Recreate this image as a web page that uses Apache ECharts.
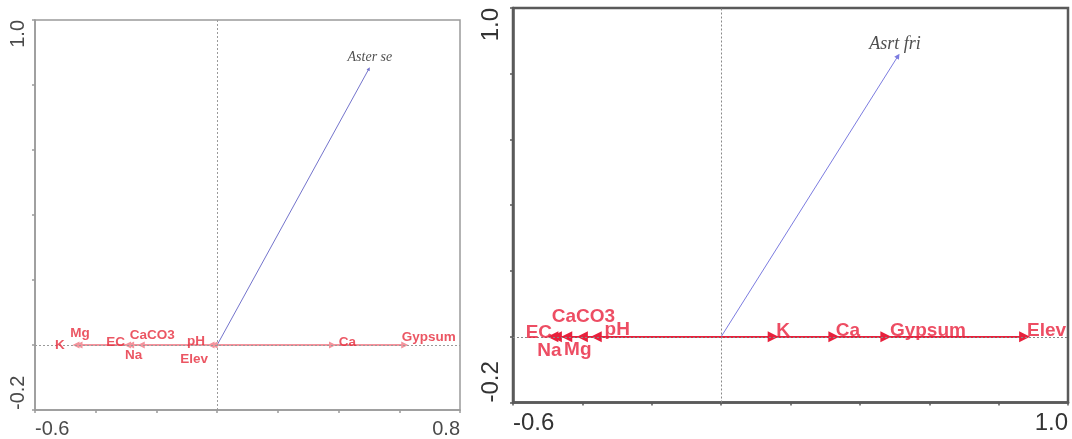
<!DOCTYPE html>
<html>
<head>
<meta charset="utf-8">
<script src="https://cdn.jsdelivr.net/npm/echarts@6/dist/echarts.min.js"></script>
<style>
html,body{margin:0;padding:0;background:#fff;}
#chart{width:1072px;height:439px;}
</style>
</head>
<body>
<div id="chart"></div>
<script>
// ---------- DATA ----------
// Left panel (Aster se)
const leftVars = ['K', 'Mg', 'EC', 'Na', 'CaCO3', 'pH', 'Elev', 'Ca', 'Gypsum'];
const leftVarX = [-0.465, -0.455, -0.295, -0.285, -0.25, -0.02, -0.01, 0.38, 0.618];
const leftVarY = [0, 0, 0, 0, 0, 0, 0, 0, 0];
const leftSpecies = ['Aster se'];
const leftSpeciesX = [0.50];
const leftSpeciesY = [0.85];
const leftXTicks = ['-0.6', '0.8'];
const leftYTicks = ['-0.2', '1.0'];

// Right panel (Asrt fri)
const rightVars = ['EC', 'Na', 'Mg', 'CaCO3', 'pH', 'K', 'Ca', 'Gypsum', 'Elev'];
const rightVarX = [-0.485, -0.475, -0.445, -0.40, -0.36, 0.15, 0.325, 0.475, 0.875];
const rightVarY = [0, 0, 0, 0, 0, 0, 0, 0, 0];
const rightSpecies = ['Asrt fri'];
const rightSpeciesX = [0.51];
const rightSpeciesY = [0.854];
const rightXTicks = ['-0.6', '1.0'];
const rightYTicks = ['-0.2', '1.0'];

// ---------- LABEL LAYOUT (style only) ----------
const leftLabelOffset = {
  'K': [-16, 0], 'Mg': [1, -12], 'EC': [-12, -3], 'Na': [3, 10], 'CaCO3': [11, -10],
  'pH': [-15, -4], 'Elev': [-20, 14], 'Ca': [15, -3], 'Gypsum': [24, -8]
};
const rightLabelOffset = {
  'EC': [-14, -4], 'Na': [-7, 14], 'Mg': [11, 13], 'CaCO3': [1, -20], 'pH': [21, -7],
  'K': [10, -6], 'Ca': [14, -6], 'Gypsum': [42, -6], 'Elev': [22, -6]
};

// ---------- BUILD ----------
function arrows(xs, ys) {
  return xs.map((x, i) => ({ coords: [[0, 0], [x, ys[i]]] }));
}
function points(names, xs, ys) {
  return names.map((n, i) => ({ name: n, value: [xs[i], ys[i]] }));
}
function axisFmt(ticks) {
  const vals = ticks.map(parseFloat);
  return function (v) {
    for (let i = 0; i < vals.length; i++) {
      if (Math.abs(v - vals[i]) < 1e-6) return ticks[i];
    }
    return '';
  };
}

const panels = [
  {
    grid: { left: 35, top: 20, width: 425, height: 390 },
    border: '#9a9a9a', borderW: 1.5, axisText: '#4a4a4a', axisFont: 20, yMargin: 7,
    xTicks: leftXTicks, yTicks: leftYTicks,
    vars: leftVars, vx: leftVarX, vy: leftVarY, offsets: leftLabelOffset,
    sp: leftSpecies, sx: leftSpeciesX, sy: leftSpeciesY, spOffset: [1, -11.5],
    redLine: '#f4939c', redW: 2, redLabel: '#e62c3c', varFont: 13.5, arrowSize: 7,
    blue: '#7474cc', spFont: 14, zeroCol: '#9a9a9a'
  },
  {
    grid: { left: 513, top: 8, width: 555, height: 394.5 },
    border: '#5a5a5a', borderW: 2.5, axisText: '#333', axisFont: 24, yMargin: 10,
    xTicks: rightXTicks, yTicks: rightYTicks,
    vars: rightVars, vx: rightVarX, vy: rightVarY, offsets: rightLabelOffset,
    sp: rightSpecies, sx: rightSpeciesX, sy: rightSpeciesY, spOffset: [-3, -12],
    redLine: '#e8203c', redW: 2.2, redLabel: '#e8203c', varFont: 19, arrowSize: 11,
    blue: '#7c7ce0', spFont: 18, zeroCol: '#888'
  }
];

const option = {
  animation: false,
  backgroundColor: '#fff',
  grid: [], xAxis: [], yAxis: [], series: []
};

panels.forEach((p, k) => {
  option.grid.push(Object.assign({
    show: true, borderColor: p.border, borderWidth: p.borderW,
    backgroundColor: 'transparent', containLabel: false, outerBoundsMode: 'none'
  }, p.grid));
  const xMin = parseFloat(p.xTicks[0]), xMax = parseFloat(p.xTicks[1]);
  const yMin = parseFloat(p.yTicks[0]), yMax = parseFloat(p.yTicks[1]);
  option.xAxis.push({
    type: 'value', gridIndex: k, min: xMin, max: xMax, interval: 0.2,
    axisLine: { show: true, onZero: false, lineStyle: { color: p.border, width: p.borderW } },
    axisTick: { show: true, inside: false, length: 3, lineStyle: { color: p.border, width: 1.5 } },
    splitLine: { show: false },
    axisLabel: {
      show: true, formatter: axisFmt(p.xTicks), margin: 9,
      color: p.axisText, fontSize: p.axisFont, fontFamily: 'Liberation Sans, Arial, sans-serif',
      alignMinLabel: 'left', alignMaxLabel: 'right', showMinLabel: true, showMaxLabel: true,
      hideOverlap: false
    }
  });
  option.yAxis.push({
    type: 'value', gridIndex: k, min: yMin, max: yMax, interval: 0.2,
    axisLine: { show: true, onZero: false, lineStyle: { color: p.border, width: p.borderW } },
    axisTick: { show: true, inside: false, length: 3, lineStyle: { color: p.border, width: 1.5 } },
    splitLine: { show: false },
    axisLabel: {
      show: true, formatter: axisFmt(p.yTicks), margin: p.yMargin, rotate: 90,
      color: p.axisText, fontSize: p.axisFont, fontFamily: 'Liberation Sans, Arial, sans-serif',
      alignMinLabel: 'left', alignMaxLabel: 'right', showMinLabel: true, showMaxLabel: true,
      hideOverlap: false
    }
  });
  // zero reference lines
  option.series.push({
    type: 'scatter', xAxisIndex: k, yAxisIndex: k, z: 1, silent: true,
    symbolSize: 0, data: p.sx.map((x, i) => [x, p.sy[i]]),
    markLine: {
      silent: true, symbol: 'none', animation: false,
      label: { show: false },
      lineStyle: { type: [2, 2], color: p.zeroCol, width: 1 },
      data: [{ xAxis: 0 }, { yAxis: 0 }]
    }
  });
  // species arrow
  option.series.push({
    type: 'lines', coordinateSystem: 'cartesian2d', xAxisIndex: k, yAxisIndex: k, z: 2,
    silent: true, symbol: ['none', 'triangle'], symbolSize: p.arrowSize * 0.5,
    lineStyle: { color: p.blue, width: 1, opacity: 1, curveness: 0 },
    data: arrows(p.sx, p.sy)
  });
  // environmental arrows
  option.series.push({
    type: 'lines', coordinateSystem: 'cartesian2d', xAxisIndex: k, yAxisIndex: k, z: 3,
    silent: true, symbol: ['none', 'triangle'], symbolSize: p.arrowSize,
    lineStyle: { color: p.redLine, width: p.redW, opacity: 1, curveness: 0 },
    itemStyle: { color: p.redLabel },
    data: arrows(p.vx, p.vy)
  });
  // environmental labels
  const offs = p.offsets, names = p.vars;
  option.series.push({
    type: 'scatter', xAxisIndex: k, yAxisIndex: k, z: 5, silent: true,
    symbolSize: 1, itemStyle: { color: 'rgba(0,0,0,0)' },
    label: {
      show: true, position: 'inside', formatter: '{b}',
      color: p.redLabel, fontWeight: 'bold', fontSize: p.varFont,
      fontFamily: 'Liberation Sans, Arial, sans-serif',
      align: 'center', verticalAlign: 'middle'
    },
    labelLayout: function (params) {
      const o = offs[names[params.dataIndex]] || [0, 0];
      return { dx: o[0], dy: o[1], hideOverlap: false };
    },
    data: points(p.vars, p.vx, p.vy)
  });
  // species label
  const so = p.spOffset;
  option.series.push({
    type: 'scatter', xAxisIndex: k, yAxisIndex: k, z: 5, silent: true,
    symbolSize: 1, itemStyle: { color: 'rgba(0,0,0,0)' },
    label: {
      show: true, position: 'inside', formatter: '{b}',
      color: '#222', fontStyle: 'italic', fontSize: p.spFont,
      fontFamily: 'Liberation Serif, Times New Roman, serif',
      align: 'center', verticalAlign: 'middle'
    },
    labelLayout: function () { return { dx: so[0], dy: so[1] }; },
    data: points(p.sp, p.sx, p.sy)
  });
});

const chart = echarts.init(document.getElementById('chart'), null, { renderer: 'canvas' });
chart.setOption(option);
</script>
</body>
</html>
